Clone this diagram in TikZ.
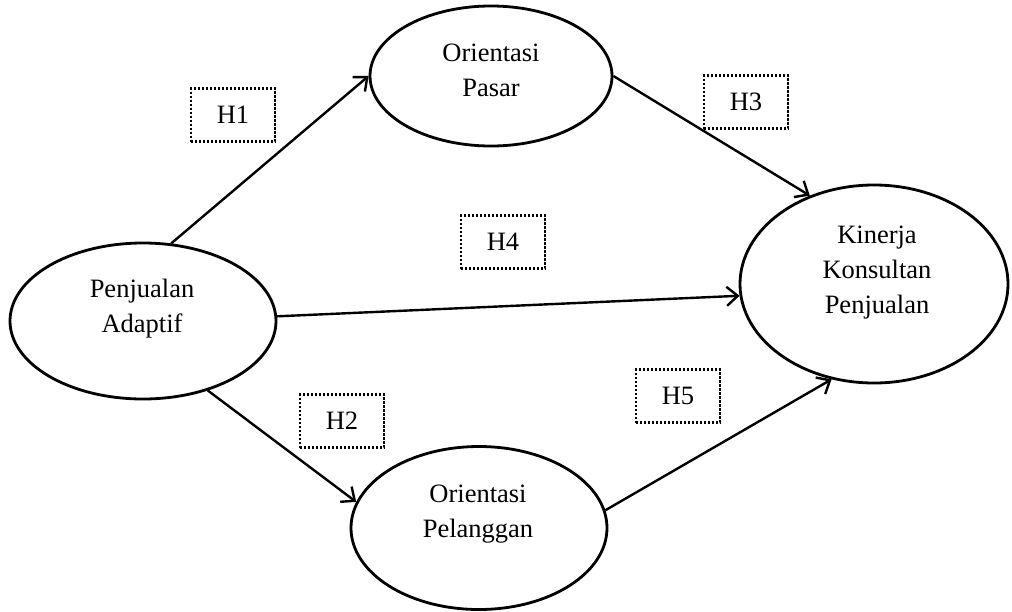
\documentclass[tikz,border=0pt]{standalone}
\usepackage{fontspec}
\setmainfont{Liberation Serif}
\usetikzlibrary{arrows.meta, shapes.geometric}

\begin{document}
\begin{tikzpicture}[
  x=1pt, y=-1pt,
  every node/.style={font=\fontsize{26.5}{35}\selectfont},
  varnode/.style={ellipse, draw, line width=2.8pt, inner sep=0pt},
  txtnode/.style={align=center, inner sep=0pt},
  hypnode/.style={rectangle, draw, line width=2.6pt, dash pattern=on 2.2pt off 1.8pt, minimum width=84pt, minimum height=53pt, inner sep=0pt},
  path/.style={line width=2.4pt, -{Straight Barb[length=11pt, width=19pt, line width=2.4pt]}},
]
\useasboundingbox (0,0) rectangle (1012,611);

% Latent variables
\node[varnode, minimum width=266pt, minimum height=156pt] (pa) at (143, 321) {};
\node[varnode, minimum width=242pt, minimum height=140pt] (op) at (491, 76) {};
\node[varnode, minimum width=268pt, minimum height=198pt] (kk) at (874, 284) {};
\node[varnode, minimum width=256pt, minimum height=163pt] (pg) at (479, 528) {};

\node[txtnode] (pa-txt) at (142, 309) {Penjualan\\Adaptif};
\node[txtnode] (op-txt) at (491, 70) {Orientasi\\Pasar};
\node[txtnode] (kk-txt) at (877, 273) {Kinerja\\Konsultan\\Penjualan};
\node[txtnode] (pg-txt) at (478, 514) {Orientasi\\Pelanggan};

% Hypotheses
\node[hypnode] (h1) at (233, 115) {H1};
\node[hypnode] (h2) at (342, 421) {H2};
\node[hypnode] (h3) at (746, 102) {H3};
\node[hypnode] (h4) at (503, 242) {H4};
\node[hypnode] (h5) at (678, 396) {H5};

% Paths
\draw[path] (pa.70) -- (op.west);
\draw[path] (pa.-47) -- (pg.168);
\draw[path] (op.east) -- (kk.126);
\draw[path] (pa.2) -- (kk.185);
\draw[path] (pg.8) -- (kk.246);

\end{tikzpicture}
\end{document}
